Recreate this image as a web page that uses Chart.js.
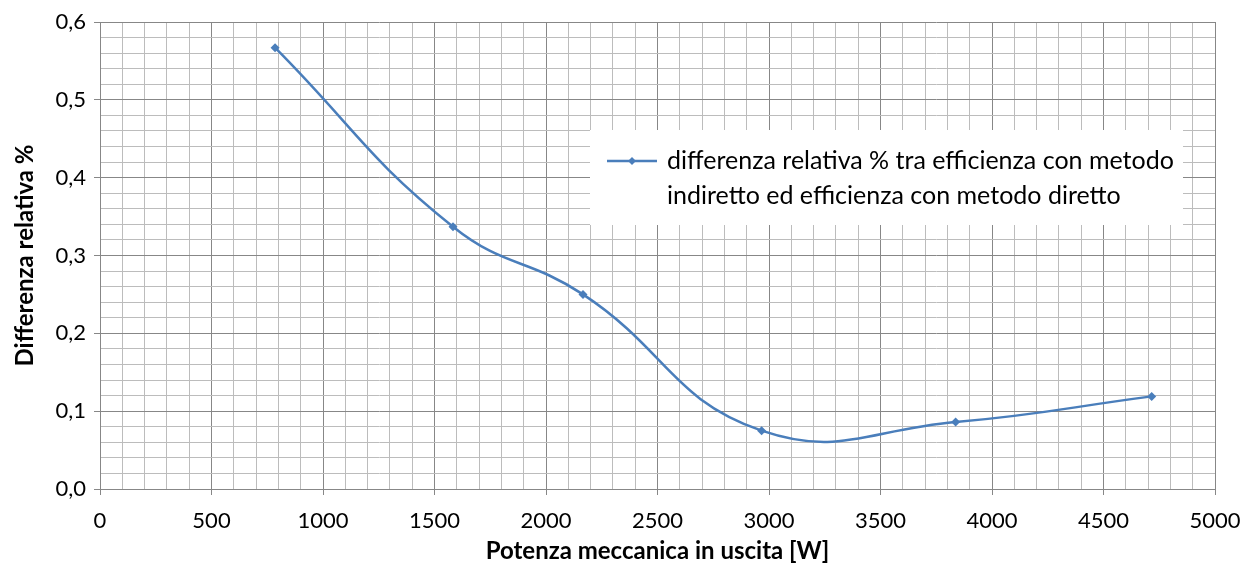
<!DOCTYPE html>
<html>
<head>
<meta charset="utf-8">
<script src="https://cdn.jsdelivr.net/npm/chart.js@4"></script>
<style>
  html, body { margin: 0; padding: 0; background: #fff; }
  #wrap { width: 1254px; height: 572px; }
</style>
</head>
<body>
<div id="wrap"><canvas id="chart"></canvas></div>
<script>
// Potenza meccanica vs differenza relativa
const potenza = [785, 1583, 2166, 2967, 3837, 4716];
const differenza = [0.567, 0.337, 0.250, 0.075, 0.086, 0.119];
const serieLabel = 'differenza relativa % tra efficienza con metodo indiretto ed efficienza con metodo diretto';
const legendLines = ['differenza relativa % tra efficienza con metodo', 'indiretto ed efficienza con metodo diretto'];

const FONT = "Lato, 'Open Sans', sans-serif";
const BLUE = '#4a7ebb';
const MAJOR = '#878787';
const MINOR = '#bcbcbc';

const isMajorX = v => Math.abs(v % 500) < 1e-6;
const isMajorY = v => Math.abs(Math.round(v * 10) - v * 10) < 1e-6;

// legend box drawn inside the plot, like the Excel original
const boxLegend = {
  id: 'boxLegend',
  afterDraw(chart) {
    const c = chart.ctx;
    c.save();
    c.fillStyle = '#fff';
    c.fillRect(590, 130, 593, 95);
    c.strokeStyle = BLUE;
    c.lineWidth = 2.5;
    c.beginPath();
    c.moveTo(607, 161);
    c.lineTo(657, 161);
    c.stroke();
    c.fillStyle = BLUE;
    c.beginPath();
    c.moveTo(632, 157); c.lineTo(636, 161); c.lineTo(632, 165); c.lineTo(628, 161);
    c.closePath();
    c.fill();
    c.fillStyle = '#000';
    c.font = '25px ' + FONT;
    c.textBaseline = 'middle';
    c.fillText(legendLines[0], 667, 161);
    c.fillText(legendLines[1], 667, 196);
    c.restore();
  }
};

new Chart(document.getElementById('chart'), {
  type: 'line',
  data: {
    datasets: [{
      label: serieLabel,
      data: potenza.map((p, i) => ({ x: p, y: differenza[i] })),
      borderColor: BLUE,
      backgroundColor: BLUE,
      borderWidth: 2.5,
      tension: 0.45,
      pointStyle: 'rectRot',
      pointRadius: 4.5,
      pointBorderWidth: 0
    }]
  },
  options: {
    responsive: true,
    maintainAspectRatio: false,
    animation: false,
    layout: { padding: { top: 22, right: 39, left: 0, bottom: 0 } },
    plugins: { legend: { display: false }, tooltip: { enabled: false } },
    scales: {
      x: {
        type: 'linear',
        min: 0, max: 5000,
        afterFit(s) { s.height = 83; },
        border: { color: MAJOR, width: 1 },
        grid: {
          color: c => isMajorX(c.tick.value) ? MAJOR : MINOR,
          tickColor: c => isMajorX(c.tick.value) ? MAJOR : 'rgba(0,0,0,0)',
          tickLength: 6
        },
        ticks: {
          stepSize: 100,
          autoSkip: false,
          maxRotation: 0,
          color: '#000',
          font: { family: FONT, size: 22 },
          padding: 13,
          callback: v => isMajorX(v) ? String(v) : ''
        },
        title: {
          display: true,
          text: 'Potenza meccanica in uscita [W]',
          color: '#000',
          font: { family: FONT, size: 24, weight: 'bold' },
          padding: { top: 2, bottom: 6 }
        }
      },
      y: {
        min: 0, max: 0.6,
        afterFit(s) { s.width = 100; },
        border: { color: MAJOR, width: 1 },
        grid: {
          color: c => isMajorY(c.tick.value) ? MAJOR : MINOR,
          tickColor: c => isMajorY(c.tick.value) ? MAJOR : 'rgba(0,0,0,0)',
          tickLength: 6
        },
        ticks: {
          stepSize: 0.02,
          autoSkip: false,
          color: '#000',
          font: { family: FONT, size: 22 },
          padding: 8,
          callback: v => isMajorY(v) ? v.toFixed(1).replace('.', ',') : ''
        },
        title: {
          display: true,
          text: 'Differenza relativa %',
          color: '#000',
          font: { family: FONT, size: 24, weight: 'bold' },
          padding: { top: 11, bottom: 0 }
        }
      }
    }
  },
  plugins: [boxLegend]
});
</script>
</body>
</html>
